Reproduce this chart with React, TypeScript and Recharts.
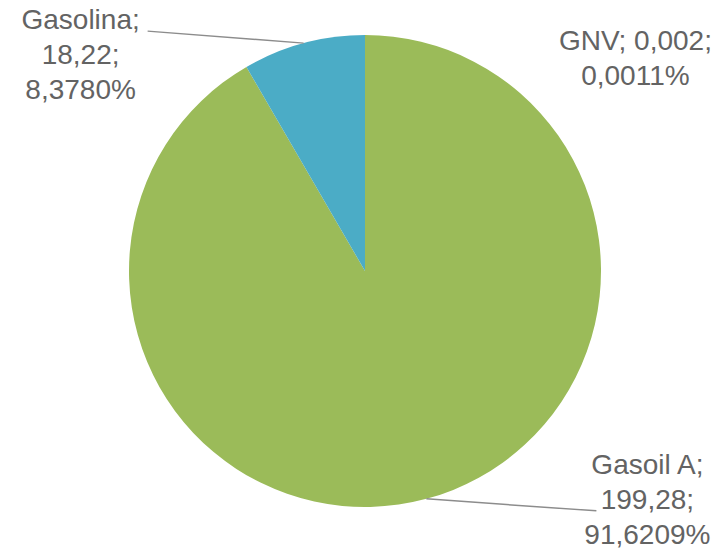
import { PieChart, Pie, Cell } from 'recharts'

const fuels = ['Gasoil A', 'GNV', 'Gasolina']
const amounts = [199.28, 0.002, 18.22]
const shareLabels = ['91,6209%', '0,0011%', '8,3780%']
const amountLabels = ['199,28', '0,002', '18,22']
const colors = ['#9BBB59', '#8064A2', '#4BACC6']

const data = fuels.map((name, i) => ({
  name,
  value: amounts[i],
  amountLabel: amountLabels[i],
  shareLabel: shareLabels[i],
  color: colors[i],
}))

// label placement, relative to the point on the rim at the slice's middle angle
const labelPlacement: Record<string, { dx: number; dy: number; tx: number; ty: number; line: boolean; joinFirst: boolean }> = {
  'Gasoil A': { dx: 170, dy: 12, tx: 51, ty: -37, line: true, joinFirst: false },
  GNV: { dx: 389, dy: -17, tx: 0, ty: 0, line: false, joinFirst: true },
  Gasolina: { dx: -156, dy: -12, tx: -67, ty: -2, line: true, joinFirst: false },
}

const RADIAN = Math.PI / 180
const FONT_SIZE = 28
const LINE_GAP = 35

const SliceLabel = (props: any) => {
  const { cx, cy, midAngle, outerRadius, payload } = props
  const p = labelPlacement[payload.name]
  const ex = cx + outerRadius * Math.cos(-midAngle * RADIAN)
  const ey = cy + outerRadius * Math.sin(-midAngle * RADIAN)
  const lx = ex + p.dx
  const ly = ey + p.dy
  const lines = p.joinFirst
    ? [`${payload.name}; ${payload.amountLabel};`, payload.shareLabel]
    : [`${payload.name};`, `${payload.amountLabel};`, payload.shareLabel]

  return (
    <g>
      {p.line && <line x1={ex} y1={ey} x2={lx} y2={ly} stroke="#8c8c8c" strokeWidth={1.5} />}
      <text
        x={lx + p.tx}
        y={ly + p.ty}
        textAnchor="middle"
        fill="#636363"
        fontSize={FONT_SIZE}
        fontFamily="'Liberation Sans', Arial, sans-serif"
      >
        {lines.map((t, i) => (
          <tspan key={i} x={lx + p.tx} y={ly + p.ty + i * LINE_GAP}>
            {t}
          </tspan>
        ))}
      </text>
    </g>
  )
}

export default function App() {
  return (
    <div style={{ position: 'absolute', left: 0, top: 0, width: 720, height: 551, background: '#fff' }}>
      <PieChart width={720} height={551} margin={{ top: 0, right: 0, bottom: 0, left: 0 }}>
        <Pie
          data={data}
          dataKey="value"
          nameKey="name"
          cx={365}
          cy={271}
          outerRadius={236}
          startAngle={90}
          endAngle={-270}
          stroke="none"
          labelLine={false}
          label={SliceLabel}
          isAnimationActive={false}
        >
          {data.map((entry, index) => (
            <Cell key={`cell-${index}`} fill={entry.color} />
          ))}
        </Pie>
      </PieChart>
    </div>
  )
}
